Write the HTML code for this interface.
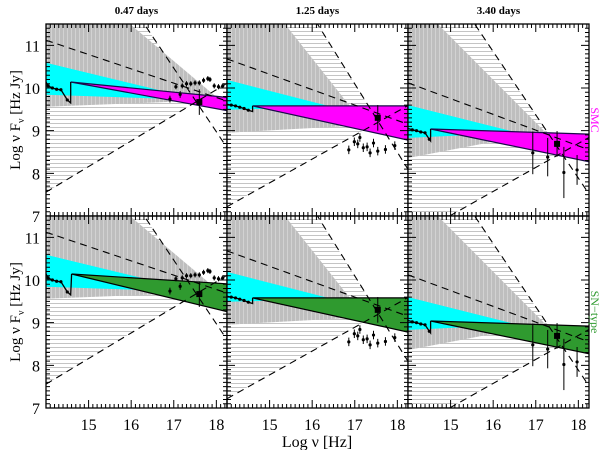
<!DOCTYPE html>
<html><head><meta charset="utf-8"><style>
html,body{margin:0;padding:0;background:#fff;}
svg{display:block;}
text{font-family:"Liberation Serif",serif;}
</style></head><body>
<svg id="chart" width="600" height="450" viewBox="0 0 600 450" xmlns="http://www.w3.org/2000/svg">
<defs>
<pattern id="vstripe" width="4" height="4" patternUnits="userSpaceOnUse"><rect width="4" height="4" fill="#bebebe"/><rect x="3" width="1" height="4" fill="#d2d2d2"/></pattern>
<pattern id="hstripe" width="4" height="4" patternUnits="userSpaceOnUse"><rect width="4" height="4" fill="#fff"/><rect y="3" width="4" height="1" fill="#c4c4c4"/></pattern>
</defs>
</svg>
<script>
const dayLabels = ["0.47 days","1.25 days","3.40 days"];
const rowLabels = ["SMC","SN\u2212type"];
const rowColors = ["#ff00ff","#2f9a2f"];
const xTicks = [15,16,17,18];
const yTicks = [7,8,9,10,11];
// gray region: [top-right nu, vertex nu, vertex v, left-bottom v]
const grayRegion = [[15.97,18.08,9.72,9.56],[15.36,17.24,9.13,8.95],[14.7,17.22,8.97,8.36]];
// dashed lines: [nu1,v1,nu2,v2]
const steepLine = [[16.32,11.48,18.13,8.78],[16.18,11.41,17.31,9.6],[15.74,11.24,17.52,8.6]];
const shallowLine = [[14.0,11.12,16.98,10.12],[13.95,10.7,17.0,9.6],[14.0,10.12,16.98,9.02]];
const risingLine = [[14.02,7.57,17.6,9.72],[13.95,7.19,17.14,8.97],[15.03,7.03,17.52,8.43]];
// cyan wedge: [left top v, left bottom v, tip nu, tip v]
const cyanWedge = [[10.59,9.84,17.6,9.72],[10.19,9.49,16.5,9.55],[9.6,8.83,16.58,8.95]];
// band: [apex nu, apex v, right top v, right bottom v] per row
const bandTop = [[14.58,10.14,9.78,9.47],[14.6,9.58,9.58,8.78],[14.53,9.04,8.92,8.27]];
const bandBottom = [[14.6,10.14,9.91,9.26],[14.6,9.58,9.58,8.78],[14.53,9.04,8.92,8.27]];
// optical: nu values and log flux
const optNu = [[14.0,14.05,14.15,14.25,14.35,14.5,14.58],[14.0,14.1,14.2,14.3,14.4,14.5,14.6],[14.0,14.1,14.2,14.3,14.4,14.5,14.53]];
const optV = [[10.14,10.05,10.0,9.97,9.96,9.72,9.65],[9.62,9.6,9.58,9.55,9.52,9.48,9.45],[9.05,9.02,9.0,8.97,8.95,8.8,8.76]];
// x-ray points
const xrNu = [[16.91,17.15,17.05,17.2,17.3,17.4,17.5,17.6,17.7,17.8,17.85,17.95,18.05,18.15],
 [16.86,16.99,17.07,17.12,17.2,17.29,17.36,17.44,17.54,17.72,17.94],
 [16.93,17.28,17.66,17.97]];
const xrV = [[9.74,9.85,10.03,10.05,10.1,10.1,10.12,10.12,10.18,10.22,10.2,10.05,10.03,10.05],
 [8.55,8.74,8.69,8.84,8.6,8.62,8.48,8.71,8.52,8.56,8.65],
 [8.48,8.38,8.02,8.08]];
const xrErr = [[0.08,0.08,0.06,0.06,0.06,0.06,0.06,0.06,0.06,0.06,0.06,0.06,0.06,0.06],
 [0.1,0.1,0.1,0.1,0.1,0.1,0.1,0.1,0.1,0.1,0.1],
 [0.5,0.45,0.6,0.35]];
// big square marker
const sqNu = [17.6,17.54,17.5];
const sqV = [9.67,9.3,8.69];
const sqErr = [0.3,0.3,0.3];

const NS="http://www.w3.org/2000/svg";
const svg=document.getElementById('chart');
const X0=[46,227,408], W=181, Y0=[24,216], H=192;
const NU0=14, NU1=18.25, V0=7, V1=11.5;
function mk(tag,attrs,parent){const e=document.createElementNS(NS,tag);for(const k in attrs)e.setAttribute(k,attrs[k]);(parent||svg).appendChild(e);return e;}
function lineAt(l,nu){return l[1]+(l[3]-l[1])/(l[2]-l[0])*(nu-l[0]);}
function isect(a,b){const sa=(a[3]-a[1])/(a[2]-a[0]),sb=(b[3]-b[1])/(b[2]-b[0]);const nu=(b[1]-sb*b[0]-(a[1]-sa*a[0]))/(sa-sb);return [nu,a[1]+sa*(nu-a[0])];}

for(let r=0;r<2;r++){for(let c=0;c<3;c++){
  const xs=nu=>X0[c]+(nu-NU0)/(NU1-NU0)*W;
  const ys=v=>Y0[r]+(V1-v)/(V1-V0)*H;
  const P=(nu,v)=>xs(nu).toFixed(1)+','+ys(v).toFixed(1);
  const cid='clip'+r+c;
  const cp=mk('clipPath',{id:cid});mk('rect',{x:X0[c],y:Y0[r],width:W,height:H},cp);
  const g=mk('g',{'clip-path':'url(#'+cid+')'});
  
  
  const st=steepLine[c], ri=risingLine[c];
  const topNu=st[0]+(V1-st[1])*(st[2]-st[0])/(st[3]-st[1]);
  const ip=isect(st,ri);
  const h=mk('polygon',{points:[P(NU0,V1),P(topNu,V1),P(ip[0],ip[1]),P(NU0,lineAt(ri,NU0))].join(' '),fill:'url(#hstripe)'},g);
  
  const gr=grayRegion[c];
  const gp=mk('polygon',{points:[P(NU0,V1),P(gr[0],V1),P(gr[1],gr[2]),P(NU0,gr[3])].join(' '),fill:'url(#vstripe)'},g);
  
  const cw=cyanWedge[c];
  const cy=mk('polygon',{points:[P(NU0,cw[0]),P(cw[2],cw[3]),P(NU0,cw[1])].join(' '),fill:'#00ffff'},g);
  
  const b=(r?bandBottom:bandTop)[c];
  const bd=mk('polygon',{points:[P(b[0],b[1]),P(NU1,b[2]),P(NU1,b[3])].join(' '),fill:rowColors[r],stroke:r?'#000':'#1a0a4a','stroke-width':1.2},g);
  
  [[st,'steep-dashed-line'],[shallowLine[c],'shallow-dashed-line'],[ri,'rising-dashed-line']].forEach(([l,n])=>{
    const e=mk('line',{x1:xs(NU0),y1:ys(lineAt(l,NU0)),x2:xs(NU1),y2:ys(lineAt(l,NU1)),stroke:'#000','stroke-width':1.1,'stroke-dasharray':'7,5'},g);
    
  });
  const on=optNu[c],ov=optV[c];
  let pts=on.map((n,i)=>P(n,ov[i]));pts.push(P(b[0],b[1]));
  const ol=mk('polyline',{points:pts.join(' '),fill:'none',stroke:'#000','stroke-width':1.3},g);
  
  for(let i=1;i<on.length-1;i++){const d=mk('circle',{cx:xs(on[i]),cy:ys(ov[i]),r:1.6,fill:'#000'},g);
    }
  for(let i=0;i<xrNu[c].length;i++){
    const x=xs(xrNu[c][i]),y=ys(xrV[c][i]);
    const e=mk('line',{x1:x,y1:ys(xrV[c][i]+xrErr[c][i]),x2:x,y2:ys(xrV[c][i]-xrErr[c][i]),stroke:'#000','stroke-width':1},g);
    
    const d=mk('circle',{cx:x,cy:y,r:1.6,fill:'#000'},g);
    
  }
  const sx=xs(sqNu[c]),sy=ys(sqV[c]);
  const se=mk('line',{x1:sx,y1:ys(sqV[c]+sqErr[c]),x2:sx,y2:ys(sqV[c]-sqErr[c]),stroke:'#000','stroke-width':1},g);
  
  const sq=mk('rect',{x:sx-3,y:sy-3,width:6,height:6,fill:'#000'},g);
  
  const fr=mk('rect',{x:X0[c],y:Y0[r],width:W,height:H,fill:'none',stroke:'#000','stroke-width':1.3});
  
  let d='';
  for(let k=141;k<=182;k++){const nu=k/10;const x=xs(nu);const L=(k%10===0)?8:4;d+=`M${x},${Y0[r]+H}v${-L}M${x},${Y0[r]}v${L}`;}
  for(let k=70;k<=115;k++){const v=k/10;const y=ys(v);const L=(k%10===0)?8:4;d+=`M${X0[c]},${y}h${L}M${X0[c]+W},${y}h${-L}`;}
  const tk=mk('path',{d:d,stroke:'#000','stroke-width':1,fill:'none'});
  
  if(c===0){yTicks.forEach(v=>{const t=mk('text',{x:40,y:ys(v)+6,'text-anchor':'end','font-size':16});t.textContent=v;
    });
    const yt=mk('text',{transform:`translate(20,${Y0[r]+H/2}) rotate(-90)`,'text-anchor':'middle','font-size':15});
    yt.innerHTML='Log &#957; F<tspan font-size="10" dy="4">&#957;</tspan><tspan dy="-4"> [Hz Jy]</tspan>';
    }
  if(r===1){xTicks.forEach(v=>{const t=mk('text',{x:xs(v),y:430,'text-anchor':'middle','font-size':16});t.textContent=v;
    });}
  if(r===0){const t=mk('text',{x:X0[c]+W/2,y:14,'text-anchor':'middle','font-size':11,'font-weight':'bold','font-family':'Liberation Mono, monospace'});t.textContent=dayLabels[c];
    }
}
const rl=mk('text',{transform:`translate(591,${Y0[r]+H/2}) rotate(90)`,'text-anchor':'middle','font-size':12,fill:rowColors[r],'font-family':'Liberation Sans, sans-serif'});
rl.textContent=rowLabels[r];
}
const xt=mk('text',{x:317,y:447,'text-anchor':'middle','font-size':16});
xt.innerHTML='Log &#957; [Hz]';

</script>
</body></html>
